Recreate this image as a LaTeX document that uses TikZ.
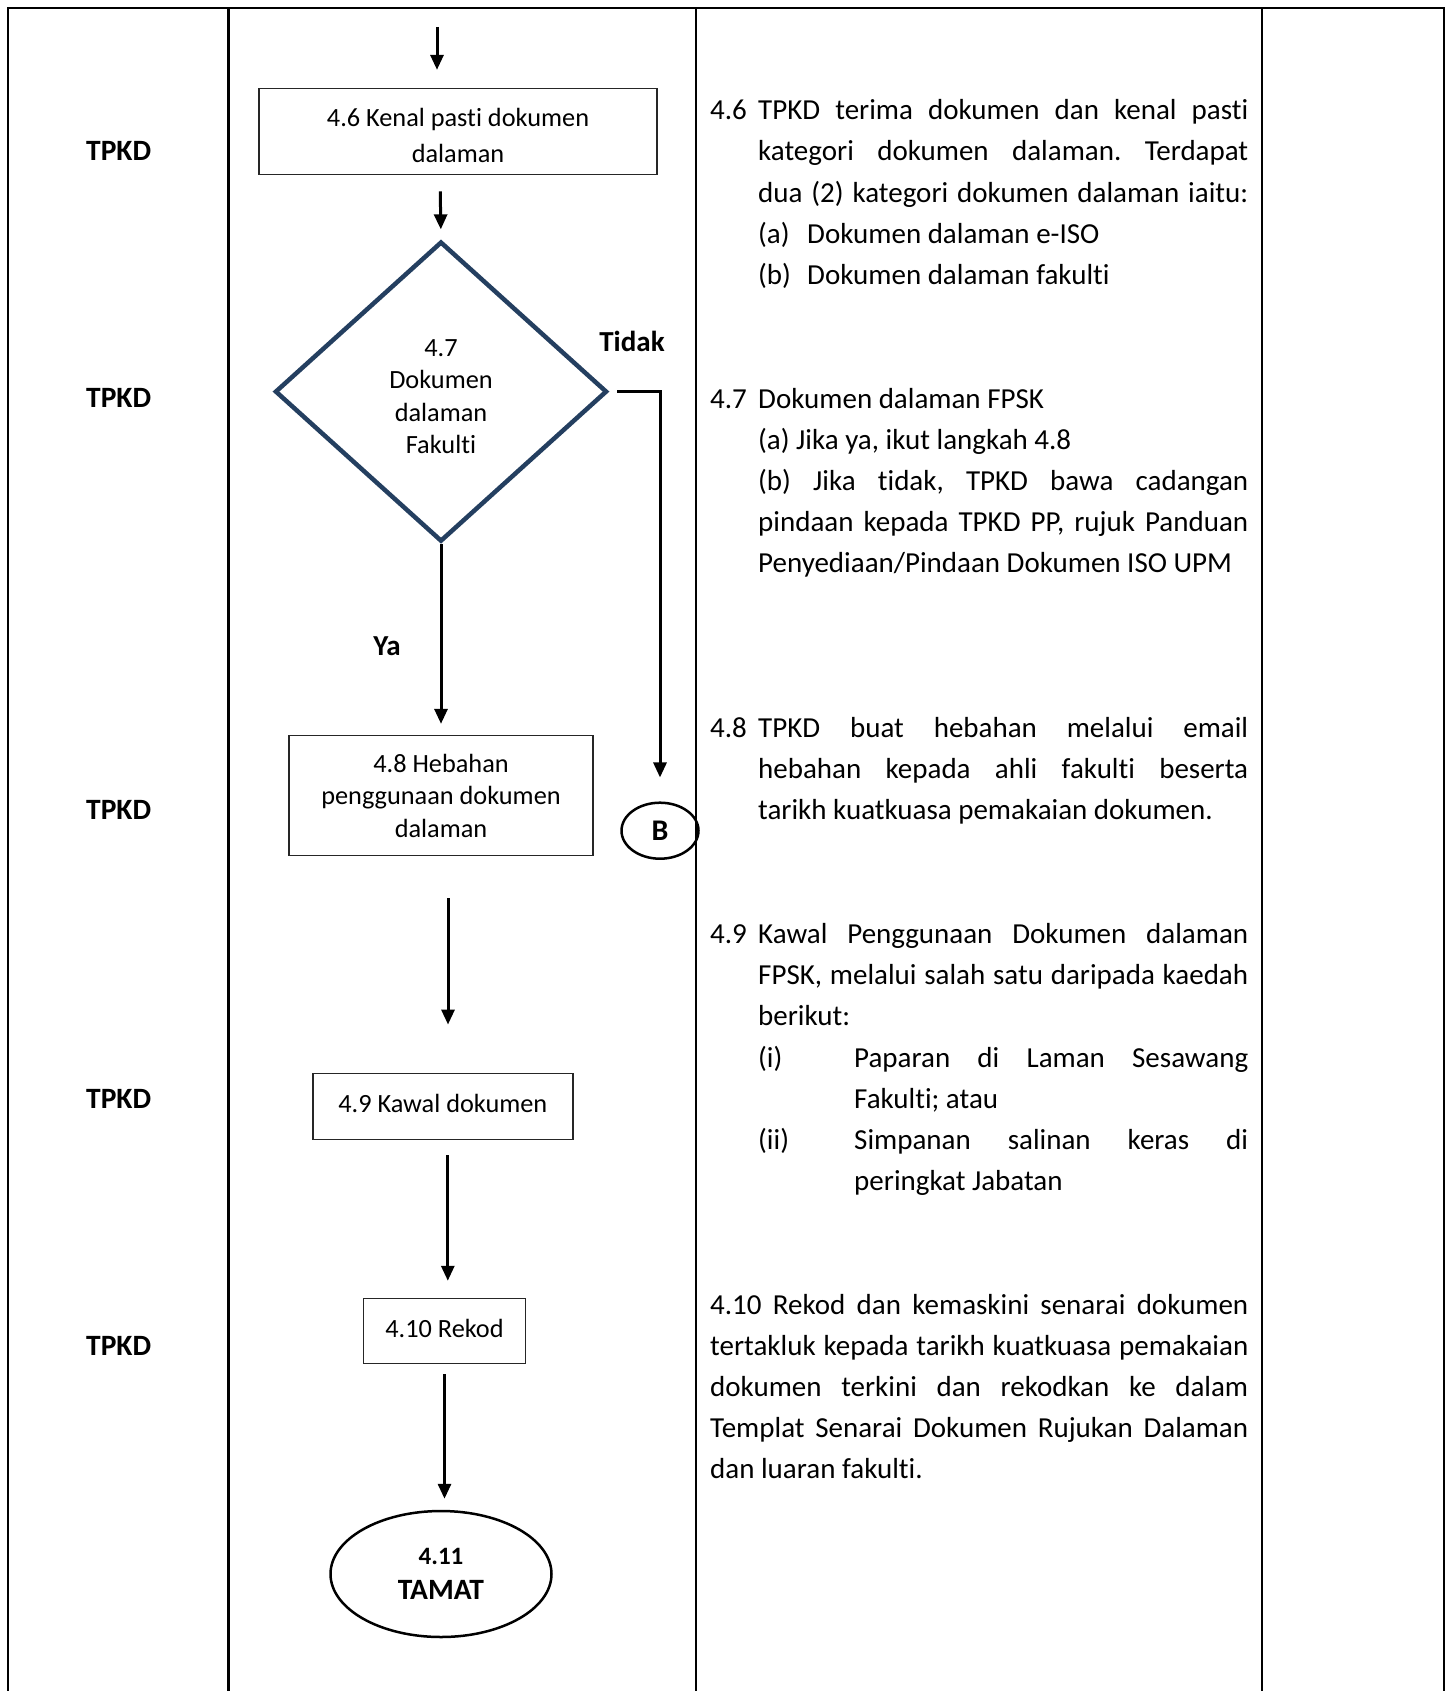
\documentclass[tikz,border=0pt]{standalone}
\usepackage{fontspec}
\setmainfont{Carlito}[Ligatures=NoCommon]
\usetikzlibrary{arrows.meta,shapes.geometric}
\definecolor{navy}{HTML}{243F60}
\frenchspacing
\newcommand{\bodyfont}{\fontsize{29}{41}\selectfont}
\newcommand{\boxfont}{\fontsize{26.3}{32.6}\selectfont}
\newcommand{\jl}[2]{\makebox[#1pt][s]{#2}}
\tikzset{
  tbl/.style={line width=2.5pt},
  box/.style={draw=black!85, line width=1.5pt, align=center, font=\boxfont, inner sep=0pt},
  arr/.style={line width=3pt, -{Triangle[length=15pt,width=13pt]}},
  lane/.style={font=\bfseries\fontsize{29.5}{35}\selectfont},
  txt/.style={anchor=mid west, inner sep=0pt, font=\bodyfont, yshift=-7.5pt}
}
\begin{document}
\begin{tikzpicture}[x=1pt,y=-1pt]
\useasboundingbox (0,0) rectangle (1451,1691);

\draw[tbl] (8,1691) -- (8,8) -- (1444,8) -- (1444,1691);
\foreach \x in {228.7,695.8,1262.2}
    \draw[tbl] (\x,8) -- (\x,1691);

\foreach \y [count=\i] in {151,398,810,1099,1346}
    \node[lane] (tpkd\i) at (118.7,\y) {TPKD};

\coordinate (top) at (437,27);
\node[box, minimum width=398, minimum height=86, font=\fontsize{26.3}{36.7}\selectfont] (b46) at (458,131.6) {\rule{0pt}{26pt}4.6 Kenal pasti dokumen\\dalaman};
\node[draw=navy, line width=4.5pt, shape=diamond, minimum width=332, minimum height=300, inner sep=0pt, align=center, font=\boxfont] (dia) at (441,391.6) {\rule{0pt}{27pt}4.7\\Dokumen\\dalaman\\Fakulti};
\node[box, minimum width=304, minimum height=120] (b48) at (441,795.6) {4.8 Hebahan\\penggunaan dokumen\\dalaman};
\node[box, minimum width=260, minimum height=66, text depth=0pt, text height=13pt] (b49) at (442.8,1106.3) {4.9 Kawal dokumen};
\node[box, minimum width=162, minimum height=65, text depth=0pt, text height=13pt] (b410) at (444.5,1331) {4.10 Rekod};
\node[draw, ellipse, line width=2.5pt, minimum width=221, minimum height=126, inner sep=0pt, align=center, font=\bfseries\fontsize{29.5}{35}\selectfont] (end) at (441,1574) {{\fontsize{25}{28}\selectfont 4.11}\\TAMAT};
\node[draw, ellipse, line width=2.5pt, minimum width=77, minimum height=56, inner sep=0pt, font=\bfseries\fontsize{30}{30}\selectfont] (B) at (660,830.7) {B};

\node[lane, font=\bfseries\fontsize{29}{35}\selectfont] (tidak) at (632,341) {Tidak};
\node[lane, font=\bfseries\fontsize{29}{35}\selectfont] (ya) at (387,646) {Ya};

\draw[arr, shorten >=18] (top) -- ([xshift=-21]b46.north);
\draw[arr, shorten <=16, shorten >=10] ([xshift=-18]b46.south) -- (dia.north);
\draw[arr, line cap=butt, shorten <=8, shorten >=24] (dia.east) -| (B.north);
\draw[arr, shorten >=11] (dia.south) -- (b48.north);
\draw[arr, shorten <=42, shorten >=48] ([xshift=7]b48.south) -- ([xshift=7]b48.south |- b49.north);
\draw[arr, shorten <=15, shorten >=17] ([xshift=5]b49.south) -- ([xshift=5]b49.south |- b410.north);
\draw[arr, shorten <=10, shorten >=11] (b410.south) -- (b410.south |- end.north);

\node[txt] (n46) at (710,110) {4.6};
\node[txt] (t46a) at (758,110) {\jl{490}{TPKD terima dokumen dan kenal pasti}};
\node[txt] (t46b) at (758,151) {\jl{490}{kategori dokumen dalaman. Terdapat}};
\node[txt] (t46c) at (758,193) {\jl{490}{dua (2) kategori dokumen dalaman iaitu:}};
\node[txt] (t46d) at (758,234) {(a)};
\node[txt] (t46e) at (807,234) {Dokumen dalaman e-ISO};
\node[txt] (t46f) at (758,275) {(b)};
\node[txt] (t46g) at (807,275) {Dokumen dalaman fakulti};

\node[txt] (n47) at (710,399) {4.7};
\node[txt] (t47a) at (758,399) {Dokumen dalaman FPSK};
\node[txt] (t47b) at (758,440) {(a) Jika ya, ikut langkah 4.8};
\node[txt] (t47c) at (758,481) {\jl{490}{(b) Jika tidak, TPKD bawa cadangan}};
\node[txt] (t47d) at (758,522) {\jl{490}{pindaan kepada TPKD PP, rujuk Panduan}};
\node[txt] (t47e) at (758,563) {Penyediaan/Pindaan Dokumen ISO UPM};

\node[txt] (n48) at (710,728) {4.8};
\node[txt] (t48a) at (758,728) {\jl{490}{TPKD buat hebahan melalui email}};
\node[txt] (t48b) at (758,769) {\jl{490}{hebahan kepada ahli fakulti beserta}};
\node[txt] (t48c) at (758,810) {tarikh kuatkuasa pemakaian dokumen.};

\node[txt] (n49) at (710,934) {4.9};
\node[txt] (t49a) at (758,934) {\jl{490}{Kawal Penggunaan Dokumen dalaman}};
\node[txt] (t49b) at (758,975) {\jl{490}{FPSK, melalui salah satu daripada kaedah}};
\node[txt] (t49c) at (758,1016) {berikut:};
\node[txt] (t49d) at (758,1058) {(i)};
\node[txt] (t49e) at (854,1058) {\jl{394}{Paparan di Laman Sesawang}};
\node[txt] (t49f) at (854,1099) {Fakulti; atau};
\node[txt] (t49g) at (758,1140) {(ii)};
\node[txt] (t49h) at (854,1140) {\jl{394}{Simpanan salinan keras di}};
\node[txt] (t49i) at (854,1181) {peringkat Jabatan};

\node[txt] (t410a) at (710,1305) {\jl{538}{4.10 Rekod dan kemaskini senarai dokumen}};
\node[txt] (t410b) at (710,1346) {\jl{538}{tertakluk kepada tarikh kuatkuasa pemakaian}};
\node[txt] (t410c) at (710,1387) {\jl{538}{dokumen terkini dan rekodkan ke dalam}};
\node[txt] (t410d) at (710,1428) {\jl{538}{Templat Senarai Dokumen Rujukan Dalaman}};
\node[txt] (t410e) at (710,1469) {dan luaran fakulti.};
\end{tikzpicture}
\end{document}
